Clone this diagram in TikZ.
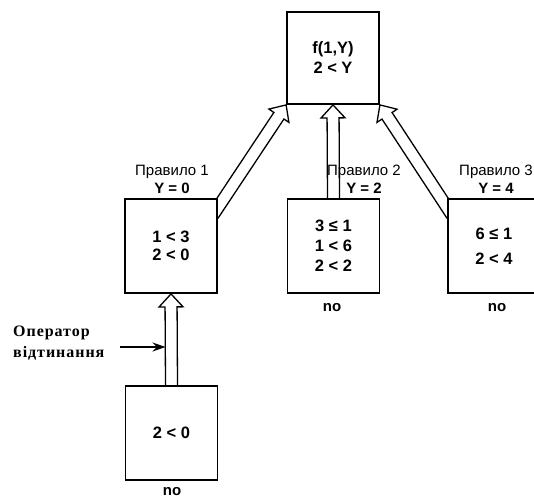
\documentclass[tikz,border=0pt]{standalone}
\usepackage{fontspec}
\setmainfont{Liberation Sans}
\newfontfamily\opfont[LetterSpace=6]{Liberation Serif}
\usetikzlibrary{calc}
\usetikzlibrary{arrows.meta}
\usetikzlibrary{backgrounds}
\tikzset{
  box/.style={draw, fill=white, line width=1.8pt, minimum width=92pt, minimum height=94pt, inner sep=0pt,
    align=center, font=\bfseries\fontsize{16.5}{20}\selectfont},
  lbl/.style={inner sep=0pt, align=center, font=\fontsize{15}{18}\selectfont},
  nolbl/.style={inner sep=0pt, font=\bfseries\fontsize{15}{16}\selectfont},
  hollow/.style={draw, line width=1.3pt, fill=white, line join=miter},
}
% hollow (double) arrow from #1 to #2
\newcommand{\hollowarrow}[2]{%
  \coordinate (hd) at ($(#2)!13pt!(#1)$);
  \draw[hollow] ($(#1)!6pt!90:(#2)$) -- ($(hd)!6pt!90:(#2)$) -- ($(hd)!12pt!90:(#2)$) -- (#2)
    -- ($(hd)!12pt!-90:(#2)$) -- ($(hd)!6pt!-90:(#2)$) -- ($(#1)!6pt!-90:(#2)$);
}

\begin{document}
\begin{tikzpicture}[x=1pt, y=-1pt]
\useasboundingbox (0,0) rectangle (534,499);
% goal
\node[box, minimum height=92pt] (goal) at (333,58) {f(1,Y)\\2 < Y};
% rules
\node[box] (r1) at (171,246) {1 < 3\\[-2pt]2 < 0};
\node[box] (r2) at (333.5,246) {3 ≤ 1\\1 < 6\\2 < 2};
\node[box] (r3) at (494,246) {6 ≤ 1\\[5pt]2 < 4};
\node[box] (cut) at (171.5,433) {2 < 0};
% labels
\node[lbl] (l1) at (172,179) {Правило 1\\\textbf{Y = 0}};
\node[lbl] (l2) at (364,179) {Правило 2\\\textbf{Y = 2}};
\node[lbl] (l3) at (496,179) {Правило 3\\\textbf{Y = 4}};
\node[nolbl] (n2) at (332,308) {no};
\node[nolbl] (n3) at (497,308) {no};
\node[nolbl] (n4) at (172,492) {no};
% arrows
\coordinate (t1) at ([xshift=-5pt, yshift=-17pt]r1.north east);
\coordinate (t3) at ([xshift=5pt, yshift=-17pt]r3.north west);
\begin{scope}[on background layer]
\hollowarrow{t1}{goal.south west}
\hollowarrow{r2.north}{goal.south}
\hollowarrow{t3}{goal.south east}
\hollowarrow{cut.north}{r1.south}
\end{scope}
% cut operator
\node[anchor=west, align=left, inner sep=0pt, font=\opfont\bfseries\fontsize{16}{21}\selectfont] (op) at (13,343) {Оператор\\відтинання};
\coordinate (opa) at (120,347);
\coordinate (opb) at (165.5,347);
\draw[line width=1.5pt, -{Stealth[length=13pt, width=9pt]}] (opa) -- (opb);
\end{tikzpicture}
\end{document}
